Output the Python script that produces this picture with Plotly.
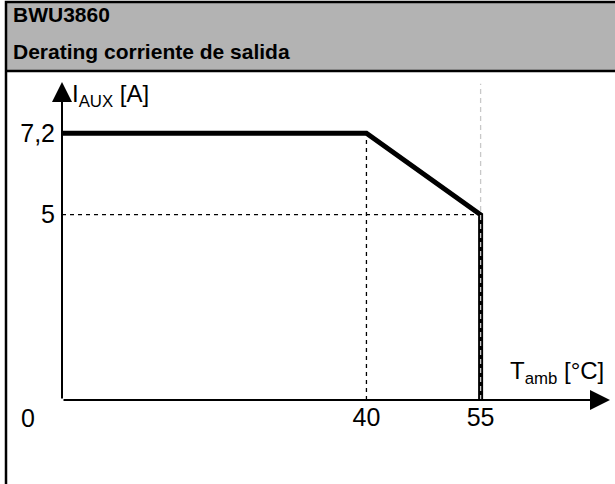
import plotly.graph_objects as go

# Data
temp_c = [0, 40, 55, 55]
current_a = [7.2, 7.2, 5, 0]
x_ticks = [40, 55]
x_ticktext = ["40", "55"]
y_ticks = [5, 7.2]
y_ticktext = ["5", "7,2"]
title_lines = ["BWU3860", "Derating corriente de salida"]

W, H = 615, 484
X_MAX, Y_MAX = 72, 8.58
FONT = "Liberation Sans, Arial, sans-serif"

def px(x):
    return x / W

def py(y):
    return 1 - y / H

fig = go.Figure()

# dashed reference lines
fig.add_trace(go.Scatter(x=[x_ticks[0], x_ticks[0]], y=[0, current_a[1]], mode="lines",
                         line=dict(color="black", width=1.3, dash="4px,4px"), hoverinfo="skip"))
fig.add_trace(go.Scatter(x=[0, x_ticks[1]], y=[y_ticks[0], y_ticks[0]], mode="lines",
                         line=dict(color="black", width=1.3, dash="4px,4px"), hoverinfo="skip"))
# derating curve
fig.add_trace(go.Scatter(x=temp_c, y=current_a, mode="lines",
                         line=dict(color="black", width=5), hoverinfo="skip"))
# light grey dashed line at 55
fig.add_trace(go.Scatter(x=[x_ticks[1], x_ticks[1]], y=[0, Y_MAX - 0.05], mode="lines",
                         line=dict(color="#c8c8c8", width=1.3, dash="5px,4px"), hoverinfo="skip"))

shapes = [
    dict(type="rect", xref="paper", yref="paper", x0=px(6), x1=1.02, y0=py(71), y1=py(2),
         fillcolor="#b3b3b3", line=dict(width=0), layer="below"),
    dict(type="line", xref="paper", yref="paper", x0=px(6), x1=1.02, y0=py(71), y1=py(71),
         line=dict(color="black", width=2.5)),
    dict(type="rect", xref="paper", yref="paper", x0=px(6), x1=1.02, y0=-0.02, y1=py(2),
         line=dict(color="black", width=2.5), fillcolor="rgba(0,0,0,0)"),
]

annotations = [
    dict(x=X_MAX, y=0, ax=0, ay=0, xref="x", yref="y", axref="x", ayref="y", text="",
         showarrow=True, arrowhead=2, arrowsize=2, arrowwidth=2, arrowcolor="black"),
    dict(x=0, y=Y_MAX, ax=0, ay=0, xref="x", yref="y", axref="x", ayref="y", text="",
         showarrow=True, arrowhead=2, arrowsize=2, arrowwidth=2, arrowcolor="black"),
    dict(x=0, y=0, xref="x", yref="y", text="0", showarrow=False, xanchor="right", yanchor="top",
         xshift=-25, yshift=-2, font=dict(size=25, color="black", family=FONT)),
    dict(x=0, y=Y_MAX, xref="x", yref="y", text="I<sub>AUX</sub> [A]", showarrow=False,
         xanchor="left", yanchor="top", xshift=8, yshift=4, font=dict(size=24, color="black", family=FONT)),
    dict(x=X_MAX, y=0, xref="x", yref="y", text="T<sub>amb</sub> [°C]", showarrow=False,
         xanchor="right", yanchor="bottom", xshift=-4, yshift=10, font=dict(size=24, color="black", family=FONT)),
    dict(x=px(11), y=py(15), xref="paper", yref="paper", text="<b>%s</b>" % title_lines[0], showarrow=False,
         xanchor="left", yanchor="middle", font=dict(size=21, color="black", family=FONT)),
    dict(x=px(11), y=py(52), xref="paper", yref="paper", text="<b>%s</b>" % title_lines[1], showarrow=False,
         xanchor="left", yanchor="middle", font=dict(size=21, color="black", family=FONT)),
]

fig.update_layout(
    width=W, height=H,
    margin=dict(l=0, r=0, t=0, b=0),
    paper_bgcolor="white", plot_bgcolor="white",
    showlegend=False,
    shapes=shapes,
    annotations=annotations,
    xaxis=dict(domain=[px(62), px(610)], range=[0, X_MAX], showgrid=False, zeroline=False,
               showline=False, tickvals=x_ticks, ticktext=x_ticktext, ticks="",
               tickfont=dict(size=25, color="black", family=FONT), fixedrange=True),
    yaxis=dict(domain=[py(400), py(82)], range=[0, Y_MAX], showgrid=False, zeroline=False,
               showline=False, tickvals=y_ticks, ticktext=y_ticktext, ticks="",
               ticklabelstandoff=6,
               tickfont=dict(size=25, color="black", family=FONT), fixedrange=True),
)

fig.write_html("out.html", config={"displayModeBar": False},
               post_script="document.body.style.margin='0';document.body.style.overflow='hidden';")
